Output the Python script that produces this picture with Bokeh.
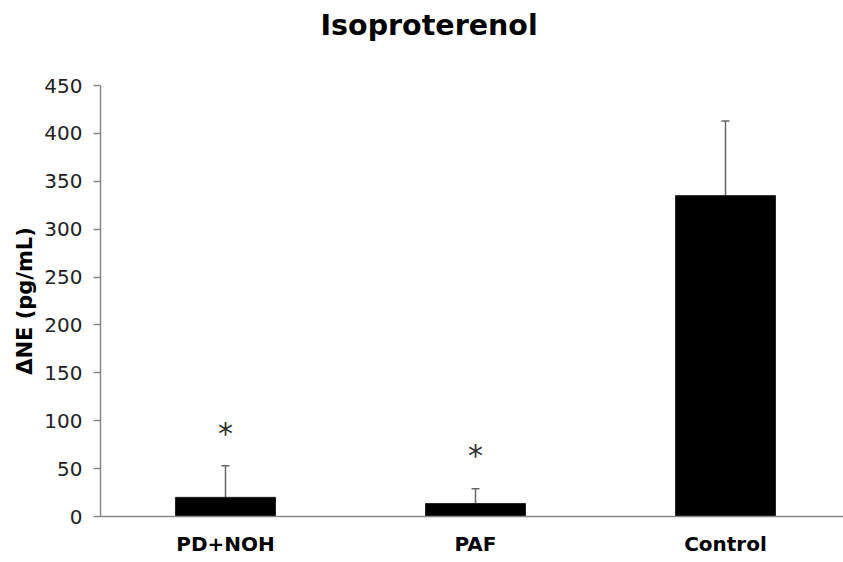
from bokeh.plotting import figure
from bokeh.models import Range1d, FixedTicker, Title, ColumnDataSource, Whisker, TeeHead
from bokeh.embed import file_html
from bokeh.resources import INLINE

title_text = "Isoproterenol"
categories = ["PD+NOH", "PAF", "Control"]
means = [20, 13.5, 335]
err_top = [53, 29, 413]
star_text = ["*", "*"]
star_y = [87, 64]
y_ticks = [0, 50, 100, 150, 200, 250, 300, 350, 400, 450]

xpos = [i + 0.5 for i in range(len(categories))]

src = ColumnDataSource(dict(x=xpos, top=means, upper=err_top))
star_src = ColumnDataSource(dict(x=xpos[:2], y=star_y, t=star_text))

FONT = "DejaVu Sans"

p = figure(width=843, height=562, output_backend="svg", toolbar_location=None,
           x_range=Range1d(0, 743 / 250), y_range=Range1d(0, 450),
           min_border_left=100, min_border_right=0, min_border_top=85, min_border_bottom=46)

p.vbar(x="x", width=0.4, top="top", bottom=0, source=src,
       fill_color="black", line_color="#222222", line_width=1)

w = Whisker(base="x", upper="upper", lower="top", source=src,
            line_color="#666666", line_width=1.5,
            upper_head=TeeHead(size=8, line_color="#666666", line_width=1.5),
            lower_head=None)
p.add_layout(w)

p.text(x="x", y="y", text="t", source=star_src, text_font_size="30px",
       text_align="center", text_baseline="middle", text_color="#333333",
       text_font={"value": FONT})

# spacer between frame and title, then the title itself
spacer = Title(text=" ", text_font_size="1px", standoff=36)
p.add_layout(spacer, "above")
t = Title(text=title_text, align="left", offset=220, standoff=10,
          text_font=FONT, text_font_size="28.5px", text_font_style="bold",
          text_color="black")
p.add_layout(t, "above")

p.xgrid.visible = False
p.ygrid.visible = False
p.outline_line_color = None

xa = p.xaxis[0]
xa.ticker = FixedTicker(ticks=xpos)
xa.major_label_overrides = {x: c for x, c in zip(xpos, categories)}
xa.major_tick_line_color = None
xa.major_tick_out = 0
xa.major_tick_in = 0
xa.minor_tick_line_color = None
xa.axis_line_color = "#888888"
xa.axis_line_width = 1.5
xa.major_label_text_font = FONT
xa.major_label_text_font_size = "20px"
xa.major_label_text_font_style = "bold"
xa.major_label_text_color = "black"
xa.major_label_standoff = 15

ya = p.yaxis[0]
ya.ticker = FixedTicker(ticks=y_ticks)
ya.major_tick_out = 7
ya.major_tick_in = 0
ya.minor_tick_line_color = None
ya.axis_line_color = "#888888"
ya.axis_line_width = 1.5
ya.major_tick_line_color = "#888888"
ya.major_tick_line_width = 1.5
ya.major_label_text_font = FONT
ya.major_label_text_font_size = "20px"
ya.major_label_text_color = "#222222"
ya.major_label_standoff = 11
ya.axis_label = "ΔNE (pg/mL)"
ya.axis_label_text_font = FONT
ya.axis_label_text_font_size = "21px"
ya.axis_label_text_font_style = "bold"
ya.axis_label_text_color = "black"
ya.axis_label_standoff = 4

open("out.html", "w").write(file_html(p, INLINE))
